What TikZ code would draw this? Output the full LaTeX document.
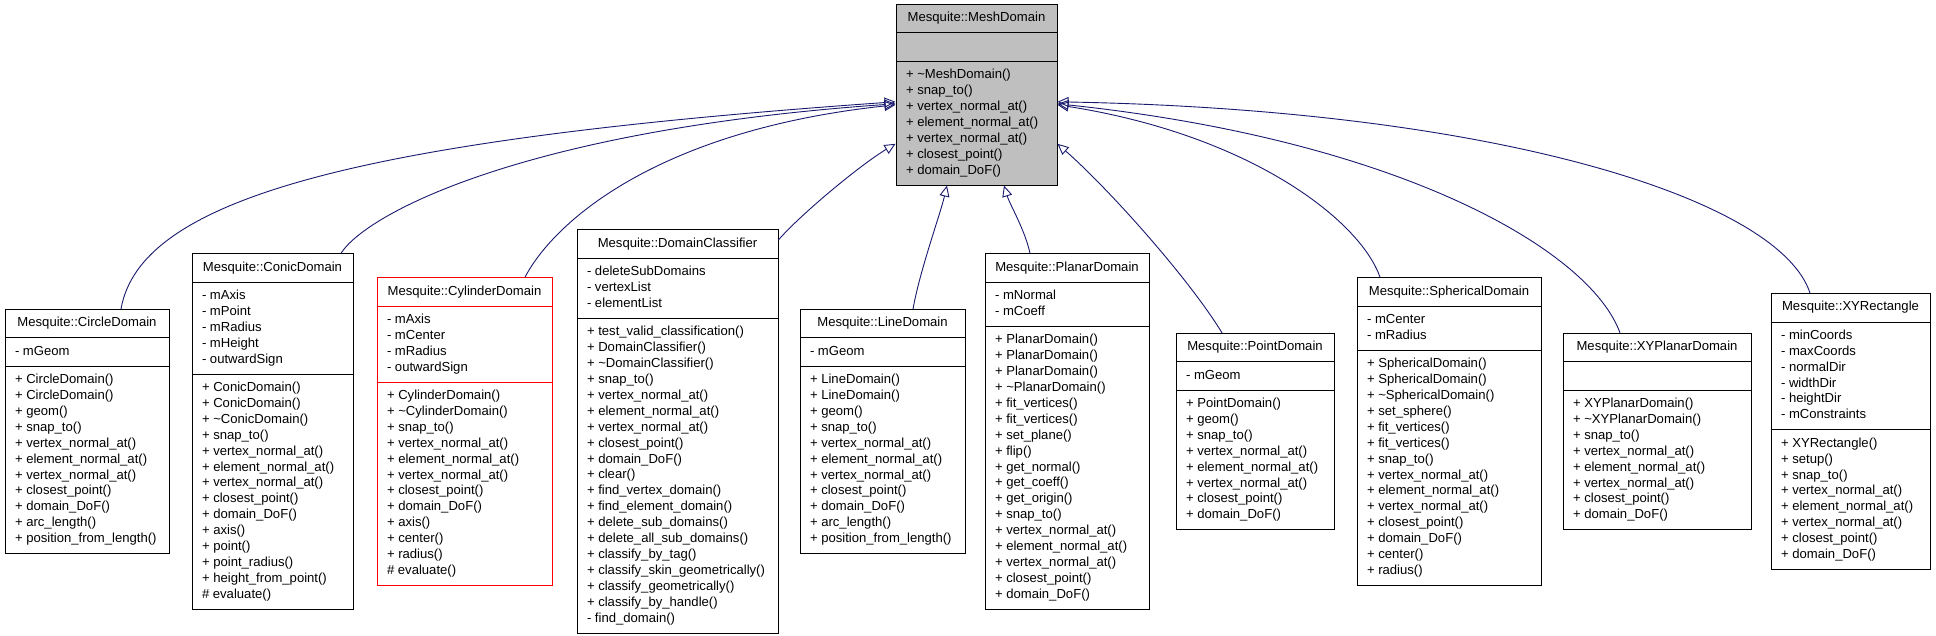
\documentclass[tikz,border=0pt]{standalone}
\usepackage{fontspec}
\setmainfont{Liberation Sans}
\usepackage{xcolor}
\definecolor{cEdge}{HTML}{191970}
\definecolor{cBase}{HTML}{BFBFBF}
\definecolor{cDoc}{HTML}{FF0000}
\usepackage{tikz}
\usetikzlibrary{arrows.meta,shapes.multipart}
\newcommand{\umlfont}{\fontsize{13.1}{15.9}\selectfont}
\newcommand{\ml}[1]{\strut#1\strut}
\tikzset{
  cls-box/.style={draw=black,line width=1pt,fill=white,rectangle split,
    rectangle split parts=3,rectangle split part align={center,left,left},
    align=left,anchor=north,inner xsep=10pt,inner ysep=5.75pt,font=\umlfont},
  cls-base/.style={fill=cBase},
  cls-doc/.style={draw=cDoc},
  arrow-inherit/.style={-{Triangle[open,length=11pt,width=10pt]},line width=0.9pt,draw=cEdge},
}

\begin{document}
\begin{tikzpicture}[x=1pt,y=-1pt]
  \useasboundingbox[fill=white] (0,0) rectangle (1936,635);
  % base class
  \node[cls-box,cls-base,minimum width=161pt] (mesh) at (976.5,4)
    {\ml{Mesquite::MeshDomain}\nodepart{second}\strut
     \nodepart{third}\ml{+ \textasciitilde MeshDomain()\\+ snap\_to()\\+ vertex\_normal\_at()\\
     + element\_normal\_at()\\+ vertex\_normal\_at()\\+ closest\_point()\\+ domain\_DoF()}};
  % derived classes
  \node[cls-box,minimum width=164pt] (circle) at (87,309)
    {\ml{Mesquite::CircleDomain}\nodepart{second}\ml{- mGeom}
     \nodepart{third}\ml{+ CircleDomain()\\+ CircleDomain()\\+ geom()\\+ snap\_to()\\
     + vertex\_normal\_at()\\+ element\_normal\_at()\\+ vertex\_normal\_at()\\+ closest\_point()\\
     + domain\_DoF()\\+ arc\_length()\\+ position\_from\_length()}};
  \node[cls-box,minimum width=161pt] (conic) at (272.5,253.3)
    {\ml{Mesquite::ConicDomain}\nodepart{second}\ml{- mAxis\\- mPoint\\- mRadius\\- mHeight\\- outwardSign}
     \nodepart{third}\ml{+ ConicDomain()\\+ ConicDomain()\\+ \textasciitilde ConicDomain()\\+ snap\_to()\\
     + vertex\_normal\_at()\\+ element\_normal\_at()\\+ vertex\_normal\_at()\\+ closest\_point()\\
     + domain\_DoF()\\+ axis()\\+ point()\\+ point\_radius()\\+ height\_from\_point()\\\# evaluate()}};
  \node[cls-box,cls-doc,minimum width=175pt] (cylinder) at (464.5,277.2)
    {\ml{Mesquite::CylinderDomain}\nodepart{second}\ml{- mAxis\\- mCenter\\- mRadius\\- outwardSign}
     \nodepart{third}\ml{+ CylinderDomain()\\+ \textasciitilde CylinderDomain()\\+ snap\_to()\\
     + vertex\_normal\_at()\\+ element\_normal\_at()\\+ vertex\_normal\_at()\\+ closest\_point()\\
     + domain\_DoF()\\+ axis()\\+ center()\\+ radius()\\\# evaluate()}};
  \node[cls-box,minimum width=201pt] (classifier) at (677.5,229.4)
    {\ml{Mesquite::DomainClassifier}\nodepart{second}\ml{- deleteSubDomains\\- vertexList\\- elementList}
     \nodepart{third}\ml{+ test\_valid\_classification()\\+ DomainClassifier()\\+ \textasciitilde DomainClassifier()\\
     + snap\_to()\\+ vertex\_normal\_at()\\+ element\_normal\_at()\\+ vertex\_normal\_at()\\
     + closest\_point()\\+ domain\_DoF()\\+ clear()\\+ find\_vertex\_domain()\\+ find\_element\_domain()\\
     + delete\_sub\_domains()\\+ delete\_all\_sub\_domains()\\+ classify\_by\_tag()\\
     + classify\_skin\_geometrically()\\+ classify\_geometrically()\\+ classify\_by\_handle()\\- find\_domain()}};
  \node[cls-box,minimum width=165pt] (line) at (882.5,309)
    {\ml{Mesquite::LineDomain}\nodepart{second}\ml{- mGeom}
     \nodepart{third}\ml{+ LineDomain()\\+ LineDomain()\\+ geom()\\+ snap\_to()\\
     + vertex\_normal\_at()\\+ element\_normal\_at()\\+ vertex\_normal\_at()\\+ closest\_point()\\
     + domain\_DoF()\\+ arc\_length()\\+ position\_from\_length()}};
  \node[cls-box,minimum width=164pt] (planar) at (1067,253.3)
    {\ml{Mesquite::PlanarDomain}\nodepart{second}\ml{- mNormal\\- mCoeff}
     \nodepart{third}\ml{+ PlanarDomain()\\+ PlanarDomain()\\+ PlanarDomain()\\+ \textasciitilde PlanarDomain()\\
     + fit\_vertices()\\+ fit\_vertices()\\+ set\_plane()\\+ flip()\\+ get\_normal()\\+ get\_coeff()\\
     + get\_origin()\\+ snap\_to()\\+ vertex\_normal\_at()\\+ element\_normal\_at()\\
     + vertex\_normal\_at()\\+ closest\_point()\\+ domain\_DoF()}};
  \node[cls-box,minimum width=158pt] (point) at (1255,332.9)
    {\ml{Mesquite::PointDomain}\nodepart{second}\ml{- mGeom}
     \nodepart{third}\ml{+ PointDomain()\\+ geom()\\+ snap\_to()\\+ vertex\_normal\_at()\\
     + element\_normal\_at()\\+ vertex\_normal\_at()\\+ closest\_point()\\+ domain\_DoF()}};
  \node[cls-box,minimum width=184pt] (spherical) at (1449,277.2)
    {\ml{Mesquite::SphericalDomain}\nodepart{second}\ml{- mCenter\\- mRadius}
     \nodepart{third}\ml{+ SphericalDomain()\\+ SphericalDomain()\\+ \textasciitilde SphericalDomain()\\
     + set\_sphere()\\+ fit\_vertices()\\+ fit\_vertices()\\+ snap\_to()\\+ vertex\_normal\_at()\\
     + element\_normal\_at()\\+ vertex\_normal\_at()\\+ closest\_point()\\+ domain\_DoF()\\
     + center()\\+ radius()}};
  \node[cls-box,minimum width=188pt] (xyplanar) at (1657,332.9)
    {\ml{Mesquite::XYPlanarDomain}\nodepart{second}\strut
     \nodepart{third}\ml{+ XYPlanarDomain()\\+ \textasciitilde XYPlanarDomain()\\+ snap\_to()\\
     + vertex\_normal\_at()\\+ element\_normal\_at()\\+ vertex\_normal\_at()\\+ closest\_point()\\
     + domain\_DoF()}};
  \node[cls-box,minimum width=159pt] (xyrect) at (1850.5,293.1)
    {\ml{Mesquite::XYRectangle}\nodepart{second}\ml{- minCoords\\- maxCoords\\- normalDir\\
     - widthDir\\- heightDir\\- mConstraints}
     \nodepart{third}\ml{+ XYRectangle()\\+ setup()\\+ snap\_to()\\+ vertex\_normal\_at()\\
     + element\_normal\_at()\\+ vertex\_normal\_at()\\+ closest\_point()\\+ domain\_DoF()}};
  % inheritance edges
  \draw[arrow-inherit] ([xshift=34pt]circle.north) .. controls (140,200) and (350,140) .. ([yshift=-7pt]mesh.west);
  \draw[arrow-inherit] ([xshift=68.5pt]conic.north) .. controls (365,215) and (520,130) .. ([yshift=-9pt]mesh.west);
  \draw[arrow-inherit] ([xshift=60.5pt]cylinder.north) .. controls (555,220) and (660,130) .. ([yshift=-10pt]mesh.west);
  \draw[arrow-inherit] ([yshift=-10.5pt]classifier.north east) .. controls (800,215) and (860,165) .. ([yshift=-49pt]mesh.west);
  \draw[arrow-inherit] ([xshift=30.5pt]line.north) .. controls (920,270) and (940,215) .. ([xshift=-29.5pt]mesh.south);
  \draw[arrow-inherit] ([xshift=-37pt]planar.north) .. controls (1025,230) and (1010,205) .. ([xshift=27.5pt]mesh.south);
  \draw[arrow-inherit] ([xshift=-33pt]point.north) .. controls (1190,280) and (1110,190) .. ([yshift=-49pt]mesh.east);
  \draw[arrow-inherit] ([xshift=-69pt]spherical.north) .. controls (1360,220) and (1250,135) .. ([yshift=-10pt]mesh.east);
  \draw[arrow-inherit] ([xshift=-37pt]xyplanar.north) .. controls (1590,250) and (1400,140) .. ([yshift=-9pt]mesh.east);
  \draw[arrow-inherit] ([xshift=-40.5pt]xyrect.north) .. controls (1780,200) and (1500,110) .. ([yshift=-7pt]mesh.east);
\end{tikzpicture}
\end{document}
